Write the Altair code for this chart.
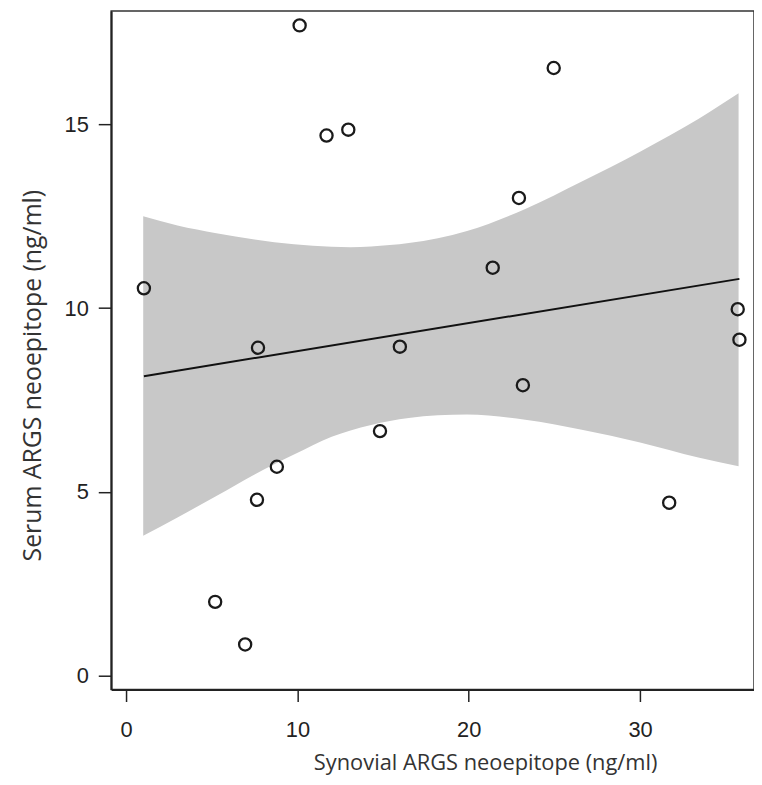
import altair as alt
import pandas as pd

# Scatter points
synovial = [1.04, 10.13, 11.7, 12.97, 24.96, 22.93, 21.4, 35.7, 35.8, 23.16,
            7.7, 15.98, 14.82, 8.8, 7.64, 31.7, 5.2, 6.95]
serum = [10.54, 17.7, 14.7, 14.86, 16.54, 13.0, 11.1, 9.97, 9.14, 7.9,
         8.92, 8.95, 6.65, 5.68, 4.78, 4.70, 2.0, 0.84]

# Confidence band edges
band_x = [1.0, 3.0, 5.27, 7.5, 9.8, 12.0, 13.1, 14.3, 16.5, 19.9, 23.3,
          26.6, 30.0, 33.4, 35.75]
band_upper = [12.5, 12.25, 12.04, 11.87, 11.74, 11.67, 11.66, 11.68, 11.77,
              12.1, 12.7, 13.45, 14.26, 15.15, 15.85]
band_lower = [3.8, 4.3, 4.88, 5.47, 6.01, 6.5, 6.67, 6.82, 7.01, 7.1, 6.96,
              6.69, 6.34, 5.93, 5.69]

x_ticks = [0, 10, 20, 30]
y_ticks = [0, 5, 10, 15]

pts = pd.DataFrame({"x": synovial, "y": serum})
band = pd.DataFrame({"x": band_x, "lo": band_lower, "hi": band_upper})

xscale = alt.Scale(domain=[-0.87, 36.65], nice=False, zero=False)
yscale = alt.Scale(domain=[-0.39, 18.09], nice=False, zero=False)

label_font = "Liberation Sans"
title_font = "Open Sans"

xaxis = alt.Axis(
    values=x_ticks, title="Synovial ARGS neoepitope (ng/ml)", grid=False,
    domainColor="#222", domainWidth=2, tickColor="#222", tickWidth=1.5,
    tickSize=12, labelFont=label_font, labelFontSize=22, labelColor="#222",
    labelPadding=18, titleFont=title_font, titleFontSize=22,
    titleFontWeight="normal", titleColor="#333",
    titleX=377, titleY=81, titleBaseline="alphabetic", titleAlign="center",
)
yaxis = alt.Axis(
    values=y_ticks, title="Serum ARGS neoepitope (ng/ml)", grid=False,
    domainColor="#222", domainWidth=2, tickColor="#222", tickWidth=1.5,
    tickSize=13, labelFont=label_font, labelFontSize=22, labelColor="#222",
    labelPadding=10, titleFont=title_font, titleFontSize=25,
    titleFontWeight="normal", titleColor="#333",
    titleX=-79, titleY=367, titleBaseline="middle", titleAlign="center",
    titleAngle=-90,
)

band_layer = alt.Chart(band).mark_area(
    color="#c8c8c8", opacity=1, interpolate="monotone"
).encode(
    x=alt.X("x:Q", scale=xscale, axis=xaxis),
    y=alt.Y("lo:Q", scale=yscale, axis=yaxis),
    y2="hi:Q",
)

line_layer = alt.Chart(pts).transform_regression("x", "y").mark_line(
    color="#111", strokeWidth=2
).encode(
    x=alt.X("x:Q", scale=xscale),
    y=alt.Y("y:Q", scale=yscale),
)

point_layer = alt.Chart(pts).mark_point(
    shape="circle", filled=False, color="#1a1a1a", strokeWidth=2.3,
    size=150, opacity=1
).encode(
    x=alt.X("x:Q", scale=xscale),
    y=alt.Y("y:Q", scale=yscale),
)

chart = alt.layer(band_layer, line_layer, point_layer).properties(
    width=648, height=684,
    autosize=alt.AutoSizeParams(type="none"),
    padding={"left": 104, "top": 0, "right": 0, "bottom": 85},
).configure_view(stroke="#333", strokeWidth=1.5)

chart.save("out.html", embed_options={"renderer": "svg", "actions": False})
